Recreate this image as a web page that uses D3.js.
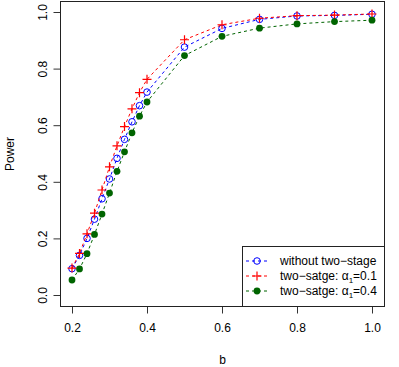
<!DOCTYPE html>
<html>
<head>
<meta charset="utf-8">
<script src="https://cdn.jsdelivr.net/npm/d3@7"></script>
<style>
  body { margin: 0; background: #fff; }
  svg { font-family: "Liberation Sans", Arial, sans-serif; }
</style>
</head>
<body>
<div id="vis"></div>
<script>
// data
const B = [0.2, 0.22, 0.24, 0.26, 0.28, 0.30, 0.32, 0.34, 0.36, 0.38, 0.40, 0.5, 0.6, 0.7, 0.8, 0.9, 1.0]
const WITHOUT = [0.093, 0.14, 0.20, 0.268, 0.34, 0.41, 0.483, 0.55, 0.612, 0.669, 0.717, 0.876, 0.942, 0.974, 0.986, 0.988, 0.992]
const ALPHA01 = [0.095, 0.147, 0.216, 0.289, 0.371, 0.453, 0.527, 0.595, 0.658, 0.715, 0.762, 0.902, 0.955, 0.978, 0.987, 0.989, 0.993]
const ALPHA04 = [0.053, 0.092, 0.146, 0.214, 0.286, 0.36, 0.437, 0.506, 0.573, 0.632, 0.682, 0.846, 0.914, 0.943, 0.958, 0.966, 0.971]
const X_TICKS = [0.2, 0.4, 0.6, 0.8, 1.0]
const Y_TICKS = [0.0, 0.2, 0.4, 0.6, 0.8, 1.0]

const FRAME_WIDTH = 399
const FRAME_HEIGHT = 367
const BOX = {left: 60.5, right: 384.5, top: 1.5, bottom: 306.5}

const svg = d3.select('#vis')
              .append('svg')
              .attr('width', FRAME_WIDTH)
              .attr('height', FRAME_HEIGHT)

const x = d3.scaleLinear().domain([0.2, 1.0]).range([72, 372])
const y = d3.scaleLinear().domain([0, 1]).range([295, 12])

// x axis
const xg = svg.append('g')
   .attr('transform', 'translate(0,' + BOX.bottom + ')')
   .call(d3.axisBottom(x).tickValues(X_TICKS).tickSize(7).tickPadding(10).tickFormat(d3.format('.1f')))
xg.select('.domain').remove()
xg.selectAll('text').attr('font-size', '12px').attr('fill', '#000').attr('font-family', null)
xg.selectAll('line').attr('stroke', '#333')

// y axis, labels rotated like R
const yg = svg.append('g')
   .attr('transform', 'translate(' + BOX.left + ',0)')
   .call(d3.axisLeft(y).tickValues(Y_TICKS).tickSize(7).tickFormat(d3.format('.1f')))
yg.select('.domain').remove()
yg.selectAll('line').attr('stroke', '#333')
yg.selectAll('text')
   .attr('font-size', '12px').attr('fill', '#000').attr('font-family', null)
   .attr('x', null).attr('dy', null)
   .attr('text-anchor', 'middle')
   .attr('transform', 'translate(-18,0) rotate(-90)')
   .attr('y', 0)
   .attr('dy', '0.35em')

// box
svg.append('rect')
   .attr('x', BOX.left).attr('y', BOX.top)
   .attr('width', BOX.right - BOX.left).attr('height', BOX.bottom - BOX.top)
   .attr('fill', 'none').attr('stroke', '#222').attr('stroke-width', 1)

// axis titles
svg.append('text')
   .attr('x', (BOX.left + BOX.right) / 2).attr('y', 364)
   .attr('text-anchor', 'middle').attr('font-size', '12px')
   .text('b')
svg.append('text')
   .attr('transform', 'translate(14,' + (BOX.top + BOX.bottom) / 2 + ') rotate(-90)')
   .attr('text-anchor', 'middle').attr('font-size', '12px')
   .text('Power')

const series = [
  {name: 'without', values: WITHOUT, color: 'blue', shape: 'open'},
  {name: 'a01', values: ALPHA01, color: 'red', shape: 'plus'},
  {name: 'a04', values: ALPHA04, color: '#006400', shape: 'dot'}
]

const line = d3.line().x(d => x(d[0])).y(d => y(d[1]))

function drawSymbol(g, shape, color) {
  if (shape === 'open') {
    g.append('circle').attr('r', 3.3).attr('fill', 'none').attr('stroke', color).attr('stroke-width', 1)
  } else if (shape === 'plus') {
    g.append('path').attr('d', 'M-4.5,0H4.5M0,-4.5V4.5').attr('stroke', color).attr('stroke-width', 1.2)
  } else {
    g.append('circle').attr('r', 3.4).attr('fill', color)
  }
}

series.forEach(s => {
  const pts = B.map((b, i) => [b, s.values[i]])
  svg.append('path')
     .datum(pts)
     .attr('d', line)
     .attr('fill', 'none')
     .attr('stroke', s.color)
     .attr('stroke-width', 1)
     .attr('stroke-dasharray', '3,3')
  svg.selectAll('g.pt-' + s.name)
     .data(pts)
     .enter()
     .append('g')
     .attr('class', 'pt-' + s.name)
     .attr('transform', d => 'translate(' + x(d[0]) + ',' + y(d[1]) + ')')
     .each(function() { drawSymbol(d3.select(this), s.shape, s.color) })
})

// legend
const LEG = {left: 242.5, top: 246.5}
svg.append('rect')
   .attr('x', LEG.left).attr('y', LEG.top)
   .attr('width', BOX.right - LEG.left).attr('height', BOX.bottom - LEG.top)
   .attr('fill', '#fff').attr('stroke', '#222')

const legendRows = [
  {label: ['without two\u2212stage'], s: series[0]},
  {label: ['two\u2212satge: \u03b1', '1', '=0.1'], s: series[1]},
  {label: ['two\u2212satge: \u03b1', '1', '=0.4'], s: series[2]}
]
legendRows.forEach((r, i) => {
  const yy = 261 + i * 15
  svg.append('line')
     .attr('x1', 246).attr('x2', 268).attr('y1', yy).attr('y2', yy)
     .attr('stroke', r.s.color).attr('stroke-dasharray', '3,3')
  const g = svg.append('g').attr('transform', 'translate(257,' + yy + ')')
  drawSymbol(g, r.s.shape, r.s.color)
  const t = svg.append('text')
     .attr('x', 280).attr('y', yy).attr('dy', '0.35em')
     .attr('font-size', '12px')
  t.append('tspan').text(r.label[0])
  if (r.label.length > 1) {
    t.append('tspan').attr('font-size', '8px').attr('dy', '3').text(r.label[1])
    t.append('tspan').attr('dy', '-3').text(r.label[2])
  }
})
</script>
</body>
</html>
